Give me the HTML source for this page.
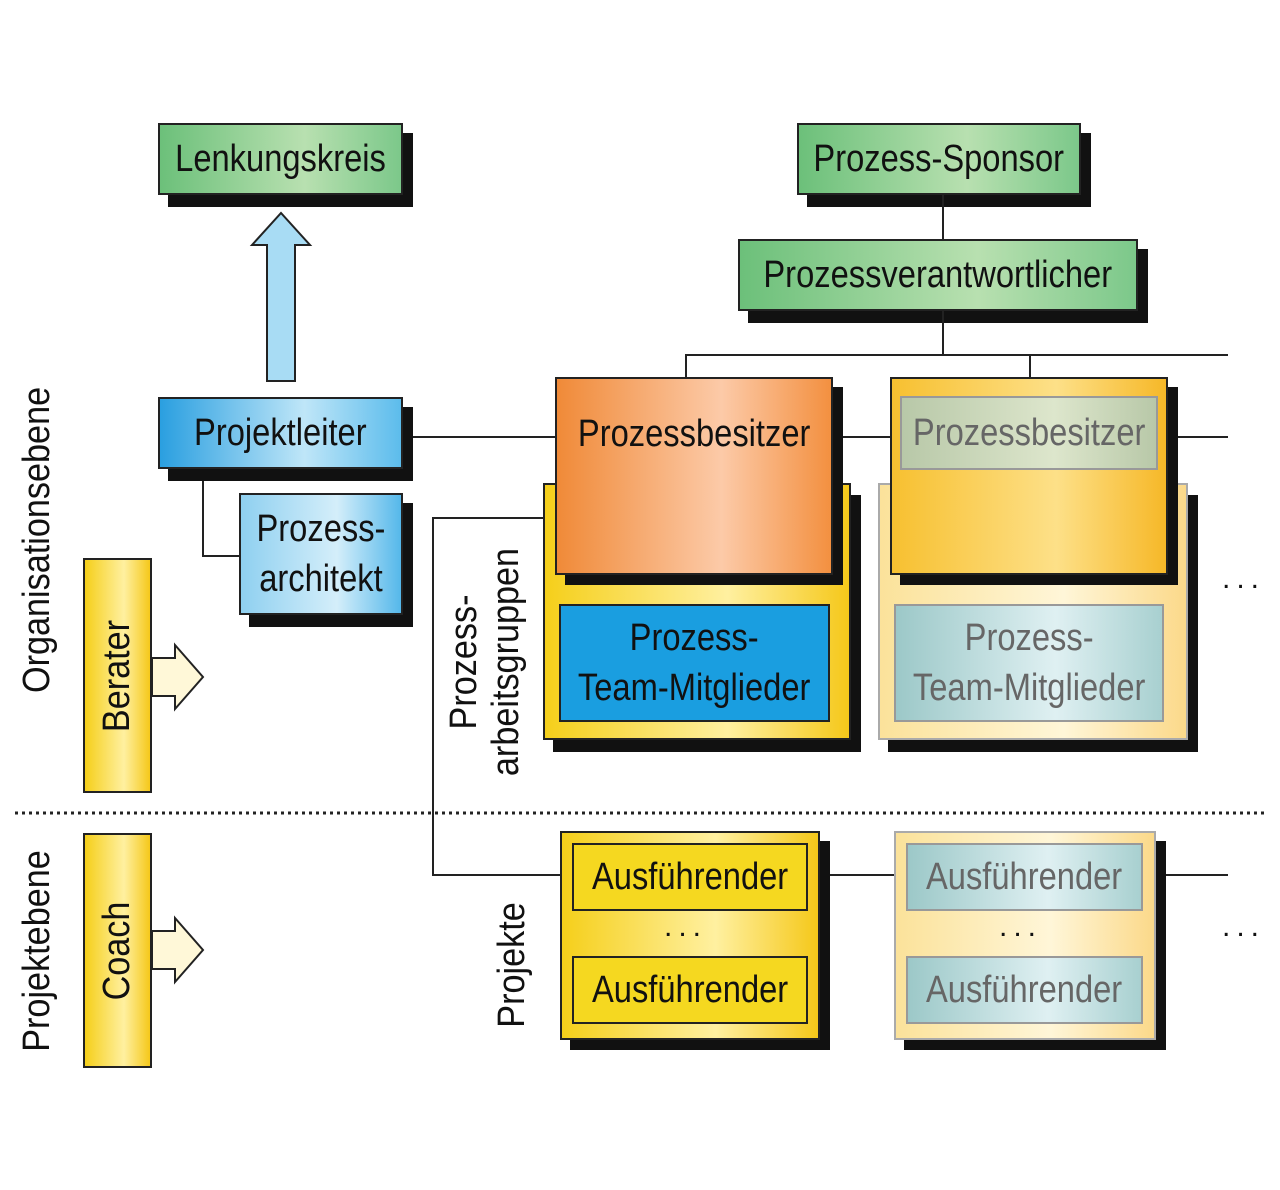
<!DOCTYPE html>
<html><head><meta charset="utf-8"><style>
body{margin:0;width:1280px;height:1190px;background:#fff;position:relative;overflow:hidden;font-family:"Liberation Sans",sans-serif;}
.b{position:absolute;box-sizing:border-box;border:2px solid #222;display:flex;align-items:center;justify-content:center;text-align:center;color:#111;font-size:38px;line-height:50px;}
.b span{display:inline-block;white-space:nowrap;transform:scaleX(0.86);}
.s{position:absolute;background:#111;}
.l{position:absolute;background:#222;}
.g{background:linear-gradient(90deg,#6cc07a,#b8e0b0 60%,#7cc88a);}
.bl{background:linear-gradient(90deg,#2a9fe0,#bfe6f8 60%,#5cbcec);}
.bl2{background:linear-gradient(90deg,#8fd0f0,#d4eefa 60%,#55b8ea);}
.or{background:linear-gradient(90deg,#f08a38,#fccaa8 60%,#f39040);align-items:flex-start;padding-top:30px;}
.ye{background:linear-gradient(90deg,#f5cf1a,#fff0a0 60%,#f5c81a);}
.yf{background:linear-gradient(90deg,#fbe29a,#fff6d8 60%,#fbd98a);border-color:#aaa;}
.tb{background:#1a9ee0;}
.gr{background:linear-gradient(90deg,#9cc8c8,#dff0f2 60%,#a8d0d0);border-color:#999;color:#666;}
.rot{position:absolute;transform:rotate(-90deg) scaleX(0.9);transform-origin:center;white-space:nowrap;font-size:38px;line-height:42px;color:#111;text-align:center;}
.dots{position:absolute;font-size:30px;color:#111;letter-spacing:6px;}
</style></head><body>

<div class="s" style="left:168px;top:133px;width:245px;height:74px"></div>
<div class="b g" style="left:158px;top:123px;width:245px;height:72px"><span>Lenkungskreis</span></div>

<div class="s" style="left:807px;top:133px;width:284px;height:74px"></div>
<div class="b g" style="left:797px;top:123px;width:284px;height:72px"><span>Prozess-Sponsor</span></div>
<div class="l" style="left:942px;top:195px;width:2px;height:44px"></div>

<div class="s" style="left:748px;top:249px;width:400px;height:74px"></div>
<div class="b g" style="left:738px;top:239px;width:400px;height:72px"><span>Prozessverantwortlicher</span></div>
<div class="l" style="left:942px;top:311px;width:2px;height:44px"></div>
<div class="l" style="left:685px;top:354px;width:543px;height:2px"></div>
<div class="l" style="left:685px;top:354px;width:2px;height:24px"></div>
<div class="l" style="left:1029px;top:354px;width:2px;height:24px"></div>

<svg style="position:absolute;left:0;top:0" width="1280" height="1190">
<polygon points="267,381 295,381 295,245 310,245 281,213 252,245 267,245" fill="#a8dcf4" stroke="#222" stroke-width="2"/>
<line x1="15" y1="813" x2="1265" y2="813" stroke="#222" stroke-width="3" stroke-dasharray="3 4"/>
<polygon points="152,658 175,658 175,645 203,677 175,709 175,696 152,696" fill="#fff8d8" stroke="#222" stroke-width="2"/>
<polygon points="152,931 175,931 175,918 203,950 175,982 175,969 152,969" fill="#fff8d8" stroke="#222" stroke-width="2"/>
<polyline points="555,518 433,518 433,875 560,875" fill="none" stroke="#222" stroke-width="2"/>
<polyline points="203,469 203,556 239,556" fill="none" stroke="#222" stroke-width="2"/>
<line x1="413" y1="437" x2="555" y2="437" stroke="#222" stroke-width="2"/>
<line x1="833" y1="437" x2="890" y2="437" stroke="#222" stroke-width="2"/>
<line x1="1168" y1="437" x2="1228" y2="437" stroke="#222" stroke-width="2"/>
<line x1="820" y1="875" x2="894" y2="875" stroke="#222" stroke-width="2"/>
<line x1="1156" y1="875" x2="1228" y2="875" stroke="#222" stroke-width="2"/>
</svg>

<div class="s" style="left:168px;top:407px;width:245px;height:74px"></div>
<div class="b bl" style="left:158px;top:397px;width:245px;height:72px"><span>Projektleiter</span></div>
<div class="s" style="left:249px;top:503px;width:164px;height:124px"></div>
<div class="b bl2" style="left:239px;top:493px;width:164px;height:122px"><span>Prozess-<br>architekt</span></div>

<div class="b ye" style="left:83px;top:558px;width:69px;height:235px"></div>
<div class="rot" style="left:17px;top:655px;width:200px;height:42px">Berater</div>
<div class="b ye" style="left:83px;top:833px;width:69px;height:235px"></div>
<div class="rot" style="left:17px;top:930px;width:200px;height:42px">Coach</div>
<div class="rot" style="left:-113px;top:537px;width:300px;height:42px">Organisationsebene</div>
<div class="rot" style="left:-113px;top:930px;width:300px;height:42px">Projektebene</div>
<div class="rot" style="left:345px;top:620px;width:280px;height:84px">Prozess-<br>arbeitsgruppen</div>
<div class="rot" style="left:412px;top:944px;width:200px;height:42px">Projekte</div>

<div class="s" style="left:553px;top:495px;width:308px;height:257px"></div>
<div class="b ye" style="left:543px;top:483px;width:308px;height:257px"></div>
<div class="s" style="left:565px;top:387px;width:278px;height:198px"></div>
<div class="b or" style="left:555px;top:377px;width:278px;height:198px"><span>Prozessbesitzer</span></div>
<div class="b tb" style="left:559px;top:604px;width:271px;height:118px"><span>Prozess-<br>Team-Mitglieder</span></div>

<div class="s" style="left:888px;top:495px;width:310px;height:257px"></div>
<div class="b yf" style="left:878px;top:483px;width:310px;height:257px"></div>
<div class="s" style="left:900px;top:387px;width:278px;height:198px"></div>
<div class="b" style="left:890px;top:377px;width:278px;height:198px;background:linear-gradient(90deg,#f7c030,#fde088 60%,#f6b828)"></div>
<div class="b gr" style="left:900px;top:396px;width:258px;height:74px;background:linear-gradient(90deg,#b8c8a8,#dde6cc 60%,#b8c8a8)"><span>Prozessbesitzer</span></div>
<div class="b gr" style="left:894px;top:604px;width:270px;height:118px"><span>Prozess-<br>Team-Mitglieder</span></div>

<div class="dots" style="left:1222px;top:562px">...</div>

<div class="s" style="left:570px;top:841px;width:260px;height:209px"></div>
<div class="b ye" style="left:560px;top:831px;width:260px;height:209px"></div>
<div class="b" style="left:572px;top:843px;width:236px;height:68px;background:#f5d820"><span>Ausführender</span></div>
<div class="dots" style="left:664px;top:910px">...</div>
<div class="b" style="left:572px;top:956px;width:236px;height:68px;background:#f5d820"><span>Ausführender</span></div>

<div class="s" style="left:904px;top:841px;width:262px;height:209px"></div>
<div class="b yf" style="left:894px;top:831px;width:262px;height:209px"></div>
<div class="b gr" style="left:906px;top:843px;width:237px;height:68px"><span>Ausführender</span></div>
<div class="dots" style="left:999px;top:910px">...</div>
<div class="b gr" style="left:906px;top:956px;width:237px;height:68px"><span>Ausführender</span></div>
<div class="dots" style="left:1222px;top:910px">...</div>

</body></html>
